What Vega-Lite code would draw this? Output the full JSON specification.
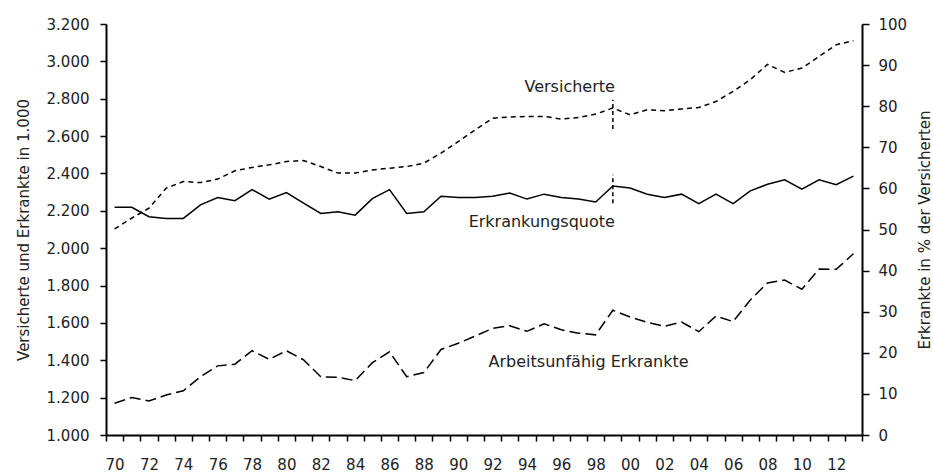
{
  "$schema": "https://vega.github.io/schema/vega-lite/v6.json",
  "width": 756,
  "height": 411,
  "autosize": "none",
  "padding": {"left": 106, "top": 24, "right": 71, "bottom": 40},
  "background": "white",
  "config": {
    "view": {"stroke": null},
    "font": "DejaVu Sans",
    "axis": {
      "domainColor": "black", "domainWidth": 2, "tickColor": "black", "tickWidth": 1.5,
      "labelColor": "#222", "titleColor": "#222", "labelFont": "DejaVu Sans", "titleFont": "DejaVu Sans",
      "labelFontSize": 15, "titleFontSize": 15, "titleFontWeight": "normal", "grid": false, "labelOverlap": false
    }
  },
  "datasets": {
    "lines": [
      {"year":1970,"series":"Versicherte","value":2103},{"year":1970,"series":"Erkrankte","value":1170},{"year":1970,"series":"Quote","value":55.4},
      {"year":1971,"series":"Versicherte","value":2161},{"year":1971,"series":"Erkrankte","value":1200},{"year":1971,"series":"Quote","value":55.4},
      {"year":1972,"series":"Versicherte","value":2214},{"year":1972,"series":"Erkrankte","value":1182},{"year":1972,"series":"Quote","value":53.1},
      {"year":1973,"series":"Versicherte","value":2321},{"year":1973,"series":"Erkrankte","value":1214},{"year":1973,"series":"Quote","value":52.7},
      {"year":1974,"series":"Versicherte","value":2357},{"year":1974,"series":"Erkrankte","value":1237},{"year":1974,"series":"Quote","value":52.7},
      {"year":1975,"series":"Versicherte","value":2351},{"year":1975,"series":"Erkrankte","value":1312},{"year":1975,"series":"Quote","value":56.0},
      {"year":1976,"series":"Versicherte","value":2370},{"year":1976,"series":"Erkrankte","value":1370},{"year":1976,"series":"Quote","value":57.8},
      {"year":1977,"series":"Versicherte","value":2414},{"year":1977,"series":"Erkrankte","value":1379},{"year":1977,"series":"Quote","value":57.0},
      {"year":1978,"series":"Versicherte","value":2432},{"year":1978,"series":"Erkrankte","value":1451},{"year":1978,"series":"Quote","value":59.7},
      {"year":1979,"series":"Versicherte","value":2446},{"year":1979,"series":"Erkrankte","value":1405},{"year":1979,"series":"Quote","value":57.4},
      {"year":1980,"series":"Versicherte","value":2464},{"year":1980,"series":"Erkrankte","value":1451},{"year":1980,"series":"Quote","value":59.0},
      {"year":1981,"series":"Versicherte","value":2469},{"year":1981,"series":"Erkrankte","value":1402},{"year":1981,"series":"Quote","value":56.4},
      {"year":1982,"series":"Versicherte","value":2437},{"year":1982,"series":"Erkrankte","value":1312},{"year":1982,"series":"Quote","value":53.9},
      {"year":1983,"series":"Versicherte","value":2402},{"year":1983,"series":"Erkrankte","value":1309},{"year":1983,"series":"Quote","value":54.3},
      {"year":1984,"series":"Versicherte","value":2402},{"year":1984,"series":"Erkrankte","value":1291},{"year":1984,"series":"Quote","value":53.5},
      {"year":1985,"series":"Versicherte","value":2419},{"year":1985,"series":"Erkrankte","value":1387},{"year":1985,"series":"Quote","value":57.5},
      {"year":1986,"series":"Versicherte","value":2428},{"year":1986,"series":"Erkrankte","value":1445},{"year":1986,"series":"Quote","value":59.7},
      {"year":1987,"series":"Versicherte","value":2437},{"year":1987,"series":"Erkrankte","value":1312},{"year":1987,"series":"Quote","value":53.9},
      {"year":1988,"series":"Versicherte","value":2455},{"year":1988,"series":"Erkrankte","value":1334},{"year":1988,"series":"Quote","value":54.3},
      {"year":1989,"series":"Versicherte","value":2509},{"year":1989,"series":"Erkrankte","value":1458},{"year":1989,"series":"Quote","value":58.1},
      {"year":1990,"series":"Versicherte","value":2571},{"year":1990,"series":"Erkrankte","value":1491},{"year":1990,"series":"Quote","value":57.8},
      {"year":1991,"series":"Versicherte","value":2634},{"year":1991,"series":"Erkrankte","value":1530},{"year":1991,"series":"Quote","value":57.8},
      {"year":1992,"series":"Versicherte","value":2696},{"year":1992,"series":"Erkrankte","value":1571},{"year":1992,"series":"Quote","value":58.1},
      {"year":1993,"series":"Versicherte","value":2702},{"year":1993,"series":"Erkrankte","value":1585},{"year":1993,"series":"Quote","value":58.9},
      {"year":1994,"series":"Versicherte","value":2705},{"year":1994,"series":"Erkrankte","value":1555},{"year":1994,"series":"Quote","value":57.4},
      {"year":1995,"series":"Versicherte","value":2705},{"year":1995,"series":"Erkrankte","value":1595},{"year":1995,"series":"Quote","value":58.6},
      {"year":1996,"series":"Versicherte","value":2691},{"year":1996,"series":"Erkrankte","value":1563},{"year":1996,"series":"Quote","value":57.8},
      {"year":1997,"series":"Versicherte","value":2700},{"year":1997,"series":"Erkrankte","value":1545},{"year":1997,"series":"Quote","value":57.4},
      {"year":1998,"series":"Versicherte","value":2718},{"year":1998,"series":"Erkrankte","value":1536},{"year":1998,"series":"Quote","value":56.7},
      {"year":1999,"series":"Versicherte","value":2750},{"year":1999,"series":"Erkrankte","value":1668},{"year":1999,"series":"Quote","value":60.6},
      {"year":2000,"series":"Versicherte","value":2714},{"year":2000,"series":"Erkrankte","value":1632},{"year":2000,"series":"Quote","value":60.1},
      {"year":2001,"series":"Versicherte","value":2741},{"year":2001,"series":"Erkrankte","value":1603},{"year":2001,"series":"Quote","value":58.6},
      {"year":2002,"series":"Versicherte","value":2736},{"year":2002,"series":"Erkrankte","value":1582},{"year":2002,"series":"Quote","value":57.8},
      {"year":2003,"series":"Versicherte","value":2745},{"year":2003,"series":"Erkrankte","value":1605},{"year":2003,"series":"Quote","value":58.6},
      {"year":2004,"series":"Versicherte","value":2753},{"year":2004,"series":"Erkrankte","value":1553},{"year":2004,"series":"Quote","value":56.3},
      {"year":2005,"series":"Versicherte","value":2785},{"year":2005,"series":"Erkrankte","value":1637},{"year":2005,"series":"Quote","value":58.6},
      {"year":2006,"series":"Versicherte","value":2839},{"year":2006,"series":"Erkrankte","value":1607},{"year":2006,"series":"Quote","value":56.3},
      {"year":2007,"series":"Versicherte","value":2902},{"year":2007,"series":"Erkrankte","value":1723},{"year":2007,"series":"Quote","value":59.4},
      {"year":2008,"series":"Versicherte","value":2984},{"year":2008,"series":"Erkrankte","value":1814},{"year":2008,"series":"Quote","value":61.0},
      {"year":2009,"series":"Versicherte","value":2941},{"year":2009,"series":"Erkrankte","value":1829},{"year":2009,"series":"Quote","value":62.1},
      {"year":2010,"series":"Versicherte","value":2964},{"year":2010,"series":"Erkrankte","value":1780},{"year":2010,"series":"Quote","value":59.8},
      {"year":2011,"series":"Versicherte","value":3026},{"year":2011,"series":"Erkrankte","value":1888},{"year":2011,"series":"Quote","value":62.1},
      {"year":2012,"series":"Versicherte","value":3089},{"year":2012,"series":"Erkrankte","value":1887},{"year":2012,"series":"Quote","value":60.9},
      {"year":2013,"series":"Versicherte","value":3110},{"year":2013,"series":"Erkrankte","value":1970},{"year":2013,"series":"Quote","value":63.0}
    ],
    "breaks": [
      {"year":1999,"side":"left","value":2638,"value2":2794},
      {"year":1999,"side":"right","value":56.4,"value2":63.3}
    ],
    "labels": [
      {"year":1999,"value":2864,"label":"Versicherte","anchor":"end"},
      {"year":1999,"value":2141,"label":"Erkrankungsquote","anchor":"end"},
      {"year":1992,"value":1391,"label":"Arbeitsunfähig Erkrankte","anchor":"start"}
    ]
  },
  "encoding": {
    "x": {
      "field": "year", "type": "ordinal",
      "scale": {"type": "band", "paddingInner": 0, "paddingOuter": 0},
      "bandPosition": 0.5,
      "axis": {
        "title": null, "tickBand": "extent", "tickSize": 6, "labelPadding": 16, "labelAngle": 0,
        "labelExpr": "datum.value % 2 == 0 ? slice(toString(datum.value), 2) : ''"
      }
    }
  },
  "layer": [
    {
      "encoding": {
        "y": {
          "field": "value", "type": "quantitative",
          "scale": {"domain": [1000, 3200], "nice": false, "zero": false},
          "axis": {
            "orient": "left", "values": [1000,1200,1400,1600,1800,2000,2200,2400,2600,2800,3000,3200],
            "labelExpr": "replace(format(datum.value, ','), ',', '.')",
            "labelOverlap": false, "labelBound": false,
            "tickSize": 6, "labelPadding": 11, "title": "Versicherte und Erkrankte in 1.000", "titlePadding": 15
          }
        }
      },
      "layer": [
        {
          "data": {"name": "lines"},
          "transform": [{"filter": "datum.series != 'Quote'"}],
          "mark": {"type": "line", "color": "black", "strokeWidth": 1.5},
          "encoding": {
            "strokeDash": {
              "field": "series", "type": "nominal",
              "scale": {"domain": ["Versicherte", "Erkrankte"], "range": [[5, 4], [11, 5]]},
              "legend": null
            }
          }
        },
        {
          "data": {"name": "breaks"},
          "transform": [{"filter": "datum.side == 'left'"}],
          "mark": {"type": "rule", "color": "black", "strokeWidth": 1.5, "strokeDash": [4, 3]},
          "encoding": {
            "y2": {"field": "value2"}
          }
        },
        {
          "data": {"name": "labels"},
          "transform": [{"filter": "datum.anchor == 'end'"}],
          "mark": {"type": "text", "align": "right", "baseline": "middle", "dx": 2, "fontSize": 16, "color": "#222", "font": "DejaVu Sans"},
          "encoding": {
            "text": {"field": "label"}
          }
        },
        {
          "data": {"name": "labels"},
          "transform": [{"filter": "datum.anchor == 'start'"}],
          "mark": {"type": "text", "align": "left", "baseline": "middle", "dx": -4, "fontSize": 16, "color": "#222", "font": "DejaVu Sans"},
          "encoding": {
            "text": {"field": "label"}
          }
        }
      ]
    },
    {
      "encoding": {
        "y": {
          "field": "value", "type": "quantitative",
          "scale": {"domain": [0, 100], "nice": false},
          "axis": {
            "orient": "right", "values": [0,10,20,30,40,50,60,70,80,90,100],
            "tickSize": 7, "labelPadding": 9, "title": "Erkrankte in % der Versicherten",
            "titleAngle": 270, "titlePadding": 26
          }
        }
      },
      "layer": [
        {
          "data": {"name": "lines"},
          "transform": [{"filter": "datum.series == 'Quote'"}],
          "mark": {"type": "line", "color": "black", "strokeWidth": 1.5}
        },
        {
          "data": {"name": "breaks"},
          "transform": [{"filter": "datum.side == 'right'"}],
          "mark": {"type": "rule", "color": "black", "strokeWidth": 1.5, "strokeDash": [4, 3]},
          "encoding": {
            "y2": {"field": "value2"}
          }
        }
      ]
    }
  ],
  "resolve": {"scale": {"y": "independent"}}
}
